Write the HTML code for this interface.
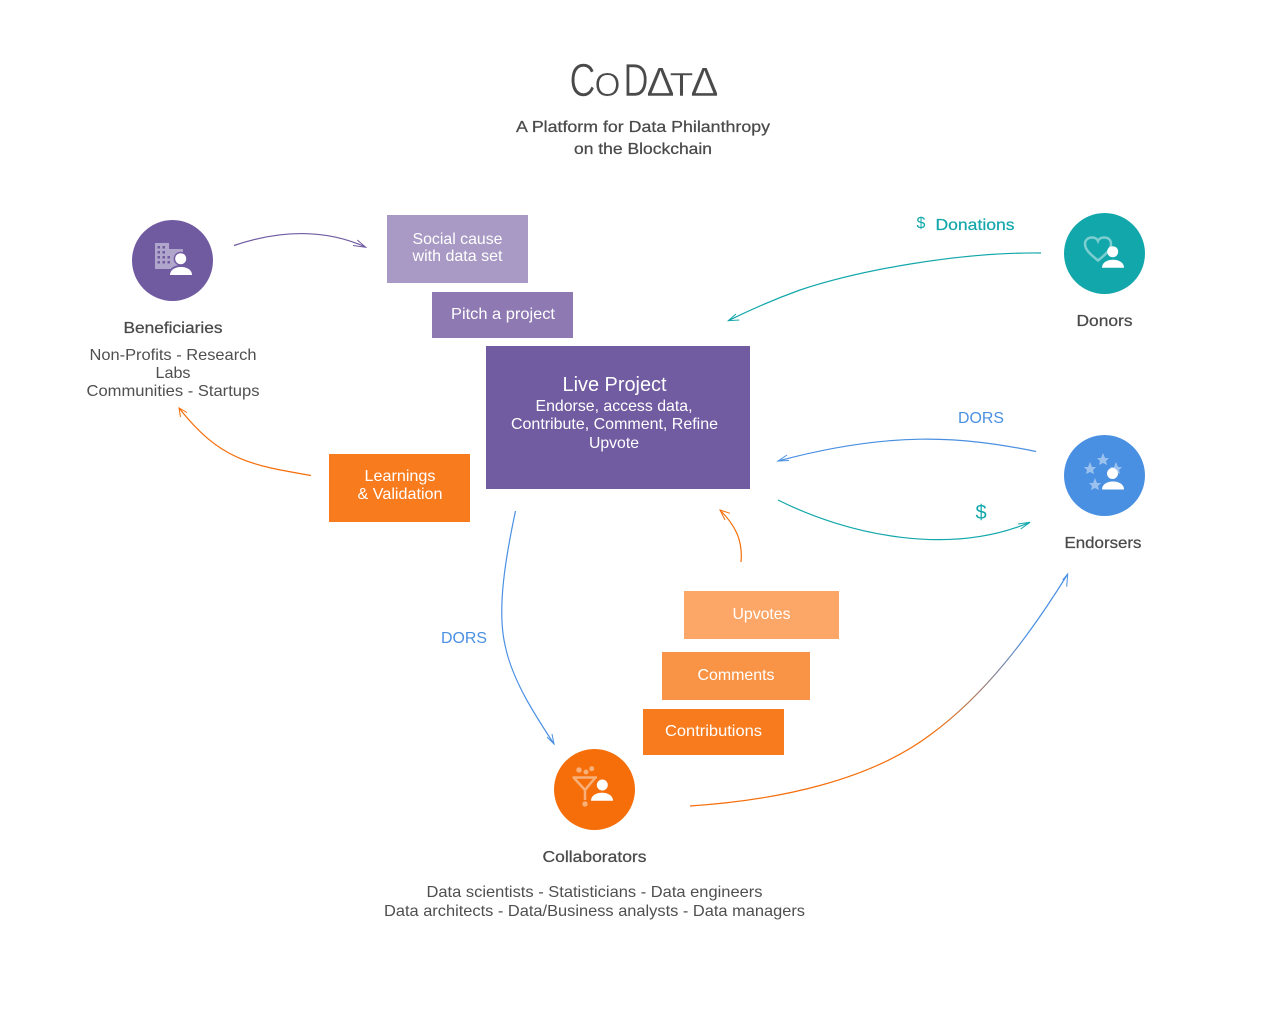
<!DOCTYPE html>
<html><head><meta charset="utf-8">
<style>
html,body{margin:0;padding:0;background:#fff}
svg{display:block}
text{font-family:"Liberation Sans",sans-serif;text-anchor:middle}
.d{fill:#4f4f4f}
.w{fill:#fff}
.b{font-weight:400;stroke:#4a4a4a;stroke-width:.25;fill:#4a4a4a}
</style></head><body>
<svg width="1284" height="1019" viewBox="0 0 1284 1019" xmlns="http://www.w3.org/2000/svg">
<defs>
<linearGradient id="g" gradientUnits="userSpaceOnUse" x1="930" y1="732" x2="1030" y2="640">
<stop offset="0" stop-color="#f56e0a"/><stop offset="1" stop-color="#4a90e2"/>
</linearGradient>
</defs>
<rect width="1284" height="1019" fill="#fff"/>

<!-- Title -->
<g style="fill:#4a4a4a">
<text x="582.500" y="96" font-size="46" textLength="26" lengthAdjust="spacingAndGlyphs" stroke="#fff" stroke-width=".6">C</text>
<text x="607.500" y="96" font-size="33" textLength="26" lengthAdjust="spacingAndGlyphs" stroke="#fff" stroke-width=".5">O</text>
<text x="636" y="96" font-size="46" textLength="25" lengthAdjust="spacingAndGlyphs" stroke="#fff" stroke-width=".6">D</text>
<text x="660.500" y="96" font-size="41" textLength="28" lengthAdjust="spacingAndGlyphs" stroke="#fff" stroke-width=".4">Δ</text>
<text x="681.500" y="96" font-size="33" textLength="24" lengthAdjust="spacingAndGlyphs" stroke="#fff" stroke-width=".5">T</text>
<text x="704.500" y="96" font-size="41" textLength="28" lengthAdjust="spacingAndGlyphs" stroke="#fff" stroke-width=".4">Δ</text>
</g>
<text class="b" x="643" y="132" font-size="16" textLength="254" lengthAdjust="spacingAndGlyphs">A Platform for Data Philanthropy</text>
<text class="b" x="643" y="154" font-size="16" textLength="138" lengthAdjust="spacingAndGlyphs">on the Blockchain</text>

<!-- Circles -->
<circle cx="172.500" cy="260.500" r="40.500" fill="#705ba1"/>
<circle cx="1104.500" cy="253.500" r="40.500" fill="#12a7ab"/>
<circle cx="1104.500" cy="475.500" r="40.500" fill="#4a90e2"/>
<circle cx="594.500" cy="789.500" r="40.500" fill="#f56e0a"/>

<!-- Beneficiaries icon -->
<g>
<path fill="#fff" fill-opacity=".45" fill-rule="evenodd" d="M155 243h14v6h14v20h-28zM157.500 246v2.500h2.500v-2.500zM162.500 246v2.500h2.500v-2.500zM157.500 251v2.500h2.500v-2.500zM162.500 251v2.500h2.500v-2.500zM157.500 256v2.500h2.500v-2.500zM162.500 256v2.500h2.500v-2.500zM167.500 256v2.500h2.500v-2.500zM157.500 261v2.500h2.500v-2.500zM162.500 261v2.500h2.500v-2.500zM167.500 261v2.500h2.500v-2.500z"/>
<circle cx="180.700" cy="258.700" r="7" fill="#705ba1"/>
<path fill="#705ba1" d="M168 276c0-7 6-11 13-11s13 4 13 11z"/>
<circle cx="180.700" cy="258.700" r="5.500" fill="#fff"/>
<path fill="#fff" d="M170 275c0-5 5-8 11-8s11 3 11 8z"/>
</g>
<!-- Donors icon -->
<g>
<path d="M1098 260.500c-6-5-13-10-13-16.500 0-4 3-6.500 7-6.500 2.500 0 5 1.200 6 3.500 1-2.300 3.500-3.500 6-3.500 4.500 0 7 2.500 7 6.500 0 6.500-7 11.500-13 16.500z" fill="none" stroke="#fff" stroke-opacity=".45" stroke-width="2.500"/>
<circle cx="1112.700" cy="251.700" r="5.500" fill="#fff"/>
<path fill="#fff" d="M1102 267.700c0-5 5-8 11-8s11 3 11 8z"/>
</g>
<!-- Endorsers icon -->
<g fill="#fff" fill-opacity=".45">
<polygon points="1103,453 1105,458 1109,458 1106,461 1107,465 1103,463 1099,465 1100,461 1097,458 1101,458"/>
<polygon points="1090,462 1092,467 1096,467 1093,470 1094,474 1090,472 1086,474 1087,470 1084,467 1088,467"/>
<polygon points="1116,462 1118,467 1122,467 1119,470 1120,474 1116,472 1112,474 1113,470 1110,467 1114,467"/>
<polygon points="1095,478 1097,483 1101,483 1098,486 1099,490 1095,488 1091,490 1092,486 1089,483 1093,483"/>
</g>
<circle cx="1112.500" cy="473.500" r="5.500" fill="#fff"/>
<path fill="#fff" d="M1102 489.500c0-5 5-8 11-8s11 3 11 8z"/>
<!-- Collaborators icon -->
<g fill="#fff" fill-opacity=".45">
<circle cx="579" cy="770" r="2.700"/><circle cx="586" cy="772" r="2.500"/><circle cx="591.700" cy="768.700" r="2.500"/>
<circle cx="585" cy="804" r="2.700"/>
</g>
<path d="M572.500 777.500H597M574 778l11 12 10-12M585 790v10" fill="none" stroke="#fff" stroke-opacity=".45" stroke-width="2.500"/>
<circle cx="602.300" cy="785" r="5.500" fill="#fff"/>
<path fill="#fff" d="M591 800.700c0-5 5-8 11-8s11 3 11 8z"/>

<!-- Boxes -->
<rect x="387" y="215" width="141" height="68" fill="#a89ac4"/>
<rect x="432" y="292" width="141" height="46" fill="#8e79b3"/>
<rect x="486" y="346" width="264" height="143" fill="#715ba1"/>
<rect x="329" y="454" width="141" height="68" fill="#f87b1e"/>
<rect x="684" y="591" width="155" height="48" fill="#fca768"/>
<rect x="662" y="652" width="148" height="48" fill="#f99446"/>
<rect x="643" y="709" width="141" height="46" fill="#f87b1e"/>

<!-- Box text -->
<g class="w" style="fill:#fff">
<text x="457.500" y="244" font-size="16" textLength="90" lengthAdjust="spacingAndGlyphs">Social cause</text>
<text x="457.500" y="261" font-size="16" textLength="90" lengthAdjust="spacingAndGlyphs">with data set</text>
<text x="503" y="319" font-size="16" textLength="104" lengthAdjust="spacingAndGlyphs">Pitch a project</text>
<text x="614.500" y="391" font-size="20" textLength="104" lengthAdjust="spacingAndGlyphs">Live Project</text>
<text x="614" y="411" font-size="16" textLength="157" lengthAdjust="spacingAndGlyphs">Endorse, access data,</text>
<text x="614.500" y="429" font-size="16" textLength="207" lengthAdjust="spacingAndGlyphs">Contribute, Comment, Refine</text>
<text x="614" y="448" font-size="16" textLength="50" lengthAdjust="spacingAndGlyphs">Upvote</text>
<text x="400" y="481" font-size="16" textLength="71" lengthAdjust="spacingAndGlyphs">Learnings</text>
<text x="400" y="499" font-size="16" textLength="85" lengthAdjust="spacingAndGlyphs">&amp; Validation</text>
<text x="761.500" y="619" font-size="16" textLength="58" lengthAdjust="spacingAndGlyphs">Upvotes</text>
<text x="736" y="680" font-size="16" textLength="77" lengthAdjust="spacingAndGlyphs">Comments</text>
<text x="713.500" y="736" font-size="16" textLength="97" lengthAdjust="spacingAndGlyphs">Contributions</text>
</g>

<!-- Node labels -->
<text class="b" x="173" y="333" font-size="16" textLength="99" lengthAdjust="spacingAndGlyphs">Beneficiaries</text>
<text class="d" x="173" y="360" font-size="16" textLength="167" lengthAdjust="spacingAndGlyphs">Non-Profits - Research</text>
<text class="d" x="173" y="378" font-size="16" textLength="35" lengthAdjust="spacingAndGlyphs">Labs</text>
<text class="d" x="173" y="396" font-size="16" textLength="173" lengthAdjust="spacingAndGlyphs">Communities - Startups</text>
<text class="b" x="1104.500" y="326" font-size="16" textLength="56" lengthAdjust="spacingAndGlyphs">Donors</text>
<text class="b" x="1103" y="548" font-size="16" textLength="77" lengthAdjust="spacingAndGlyphs">Endorsers</text>
<text class="b" x="594.500" y="862" font-size="16" textLength="104" lengthAdjust="spacingAndGlyphs">Collaborators</text>
<text class="d" x="594.500" y="897" font-size="16" textLength="336" lengthAdjust="spacingAndGlyphs">Data scientists - Statisticians - Data engineers</text>
<text class="d" x="594.500" y="916" font-size="16" textLength="421" lengthAdjust="spacingAndGlyphs">Data architects - Data/Business analysts - Data managers</text>

<!-- Connector labels -->
<text x="921" y="228" font-size="16" fill="#12a7ab">$</text>
<text x="975" y="230" font-size="16" fill="#12a7ab" stroke="#12a7ab" stroke-width=".2" textLength="79" lengthAdjust="spacingAndGlyphs">Donations</text>
<text x="981" y="423" font-size="16" fill="#4a90e2" textLength="46" lengthAdjust="spacingAndGlyphs">DORS</text>
<text x="981" y="519" font-size="20" fill="#12a7ab">$</text>
<text x="464" y="643" font-size="16" fill="#4a90e2" textLength="46" lengthAdjust="spacingAndGlyphs">DORS</text>

<!-- Connectors -->
<g fill="none" stroke-width="1.200">
<path d="M234 245.500C280 230 325 229 365.500 247" stroke="#705ba1"/>
<path d="M357.300 240L365.700 247.300 353 245.500" stroke="#705ba1" stroke-width="1"/>
<path d="M1041 253C960 252 860 270 800 290C775 299 750 310 728.300 320.700" stroke="#12a7ab"/>
<path d="M736 314L728.300 320.700 739.300 320" stroke="#12a7ab" stroke-width="1"/>
<path d="M1036 451.500C960 436 890 431 778 461" stroke="#4a90e2"/>
<path d="M787 455L778 461 789 460.500" stroke="#4a90e2" stroke-width="1"/>
<path d="M778 500C850 536 950 556 1030 522.300" stroke="#12a7ab"/>
<path d="M1018 524L1030 522.300 1020.700 529" stroke="#12a7ab" stroke-width="1"/>
<path d="M311 475.500C250 465 220 460 179 408" stroke="#f56e0a"/>
<path d="M180.500 417L179 408 187 412.500" stroke="#f56e0a" stroke-width="1"/>
<path d="M741 562C743 540 735 525 720 510" stroke="#f56e0a"/>
<path d="M725 520L720 510 730 513.300" stroke="#f56e0a" stroke-width="1"/>
<path d="M515.500 511C505 560 497 610 505 645C512 680 535 715 554 744" stroke="#4a90e2"/>
<path d="M547 737L554 744 552 734" stroke="#4a90e2" stroke-width="1"/>
<path d="M690 806C780 800 870 780 930 735C985 695 1030 635 1067.700 574" stroke="url(#g)"/>
<path d="M1062.700 580L1067.700 574 1066.700 586.700" stroke="#4a90e2" stroke-width="1"/>
</g>
</svg>
</body></html>
